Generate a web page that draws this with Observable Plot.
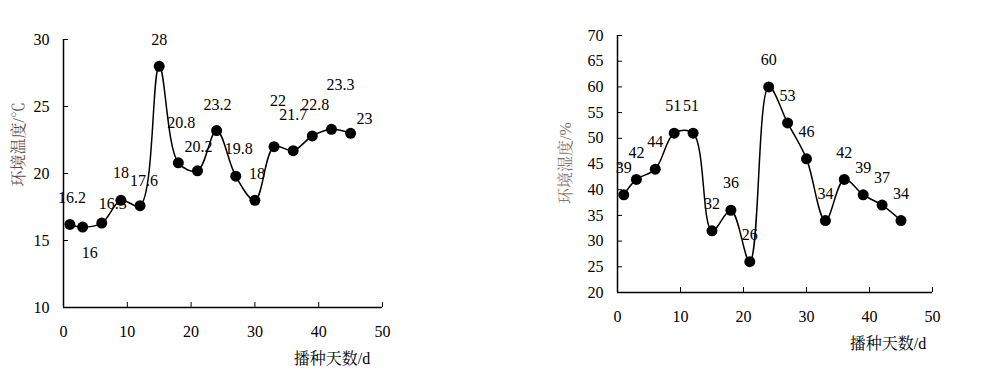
<!DOCTYPE html>
<html><head><meta charset="utf-8">
<script src="https://cdn.jsdelivr.net/npm/d3@7"></script>
<script src="https://cdn.jsdelivr.net/npm/@observablehq/plot@0.6"></script>
<style>
body{margin:0;background:#fff;}
#wrap{position:relative;width:1000px;height:378px;background:#fff;}
#wrap > svg{position:absolute;top:0;}
</style></head><body><div id="wrap"></div>
<script>
const days = [1,3,6,9,12,15,18,21,24,27,30,33,36,39,42,45];
const temperature = [16.2,16,16.3,18,17.6,28,20.8,20.2,23.2,19.8,18,22,21.7,22.8,23.3,23];
const humidity = [39,42,44,51,51,32,36,26,60,53,46,34,42,39,37,34];
const xTicks = [0,10,20,30,40,50];
const tempTicks = [10,15,20,25,30];
const humTicks = [20,25,30,35,40,45,50,55,60,65,70];
const xLabel = "播种天数/d";
const tempLabel = "环境温度/℃";
const humLabel = "环境湿度/%";

// layout only: pixel offsets of each value label from its point
const tempLabelOffsets = [[2,-27],[7,26],[11,-19],[0,-27],[4,-25],[0,-26],[3,-40],[1,-24],[1,-26],[3,-27],[2,-26],[4,-46],[0,-36],[3,-31],[9,-44],[14,-14]];
const humLabelOffsets = days.map((d,i) => i === 4 ? [-2,-27] : (i === 3 ? [-1,-27] : [0,-27]));

const FONT = "'Liberation Serif','Times New Roman','Noto Serif CJK SC','Noto Sans CJK SC',serif";

function panel({values, yDomain, yTicks, yLabel, offsets, margins, left, yTitle, xTitle, titleColor}) {
  const data = days.map((d, i) => ({day: d, v: values[i]}));
  const labelMarks = data.map((d, i) => Plot.text([d], {
    x: "day", y: "v", text: d => String(d.v),
    dx: offsets[i][0], dy: offsets[i][1], fill: "#000", fontSize: 16
  }));
  const chart = Plot.plot({
    width: 500, height: 378,
    ...margins,
    style: {fontFamily: FONT, fontSize: "16px", background: "transparent", overflow: "visible", color: "#000"},
    x: {domain: [0, 50], ticks: xTicks},
    y: {domain: yDomain, ticks: yTicks},
    marks: [
      Plot.axisX(xTicks, {tickSize: -5, tickPadding: 23, label: null, fontSize: 16, stroke: "#000", fill: "#000"}),
      Plot.axisY(yTicks, {tickSize: -5, tickPadding: 19, label: null, fontSize: 16, stroke: "#000", fill: "#000"}),
      Plot.ruleX([0], {stroke: "#000", strokeWidth: 1.5}),
      Plot.ruleY([yDomain[0]], {stroke: "#000", strokeWidth: 1.5}),
      Plot.line(data, {x: "day", y: "v", curve: "catmull-rom", stroke: "#000", strokeWidth: 1.5}),
      Plot.dot(data, {x: "day", y: "v", r: 5.5, fill: "#000", stroke: "none"}),
      ...labelMarks,
      Plot.text([yLabel], {frameAnchor: "left", rotate: -90, dx: yTitle[0], dy: yTitle[1], fill: titleColor, fontSize: 16}),
      Plot.text([xLabel], {frameAnchor: "bottom", dx: xTitle[0], dy: xTitle[1], fill: "#000", fontSize: 16})
    ]
  });
  chart.style.left = left + "px";
  return chart;
}

const wrap = document.getElementById("wrap");
wrap.appendChild(panel({
  values: temperature, yDomain: [10, 30], yTicks: tempTicks, yLabel: tempLabel,
  offsets: tempLabelOffsets,
  margins: {marginLeft: 63, marginRight: 118, marginTop: 39, marginBottom: 71},
  left: 0, yTitle: [-45, 13], xTitle: [109, 56], titleColor: "#5a4b45"
}));
wrap.appendChild(panel({
  values: humidity, yDomain: [20, 70], yTicks: humTicks, yLabel: humLabel,
  offsets: humLabelOffsets,
  margins: {marginLeft: 117, marginRight: 68, marginTop: 35, marginBottom: 86},
  left: 500, yTitle: [-52, 40], xTitle: [113, 56], titleColor: "#85736c"
}));
</script></body></html>
